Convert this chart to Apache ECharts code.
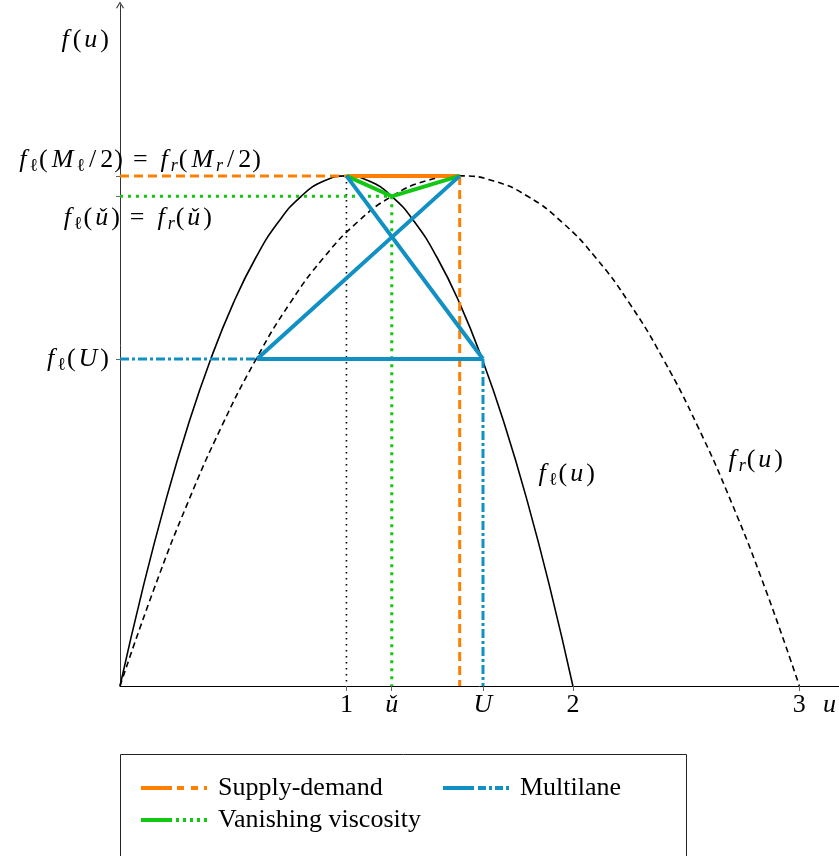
<!DOCTYPE html>
<html>
<head>
<meta charset="utf-8">
<script src="https://cdn.jsdelivr.net/npm/echarts@6/dist/echarts.min.js"></script>
<style>
html,body{margin:0;padding:0;background:#fff}
#main{width:839px;height:856px}
</style>
</head>
<body>
<div id="main"></div>
<script>
// 曲线采样 f_l(u)
var uL = [0, 0.1, 0.2, 0.3, 0.4, 0.5, 0.6, 0.7, 0.8, 0.9, 1, 1.1, 1.2, 1.3, 1.4, 1.5, 1.6, 1.7, 1.8, 1.9, 2];
var fL = [0, 0.19, 0.36, 0.51, 0.64, 0.75, 0.84, 0.91, 0.96, 0.99, 1, 0.99, 0.96, 0.91, 0.84, 0.75, 0.64, 0.51, 0.36, 0.19, 0];
// 曲线采样 f_r(u)
var uR = [0, 0.15, 0.3, 0.45, 0.6, 0.75, 0.9, 1.05, 1.2, 1.35, 1.5, 1.65, 1.8, 1.95, 2.1, 2.25, 2.4, 2.55, 2.7, 2.85, 3];
var fR = [0, 0.19, 0.36, 0.51, 0.64, 0.75, 0.84, 0.91, 0.96, 0.99, 1, 0.99, 0.96, 0.91, 0.84, 0.75, 0.64, 0.51, 0.36, 0.19, 0];

// 关键点
var peak = 1;        // f_l(M_l/2) = f_r(M_r/2)
var uHalfL = 1;      // M_l/2
var uHalfR = 1.5;    // M_r/2
var uCheck = 1.2;    // ǔ
var fCheck = 0.96;   // f_l(ǔ) = f_r(ǔ)
var uBig = 1.603;    // U
var fU = 0.641;      // f_l(U)
var uLeft = 0.605;   // f_r(u) = f_l(U)

// 刻度
var xTicks = [1, uCheck, uBig, 2, 3];
var xTickLabels = ['{n|1}', '{i|ǔ}', '{i|U}', '{n|2}', '{n|3}'];
var yTicks = [fU, fCheck, peak];

var legendNames = ['Supply-demand', 'Vanishing viscosity', 'Multilane'];

var ORANGE = '#ff8000', GREEN = '#12c812', BLUE = '#1090c3';
var FONT = '"Liberation Serif", "DejaVu Serif", serif';
var RICH = {
    f: {fontFamily: FONT, fontStyle: 'italic', fontSize: 26, lineHeight: 30, color: '#000', padding: [0, 3, 0, 4]},
    i: {fontFamily: FONT, fontStyle: 'italic', fontSize: 26, lineHeight: 30, color: '#000', padding: [0, 2, 0, 2]},
    m: {fontFamily: FONT, fontStyle: 'italic', fontSize: 26, lineHeight: 30, color: '#000', padding: [0, 3, 0, 3]},
    n: {fontFamily: FONT, fontSize: 26, lineHeight: 30, color: '#000'},
    p: {fontFamily: FONT, fontSize: 26, lineHeight: 30, color: '#000', padding: [0, 1, 0, 1]},
    d: {fontFamily: FONT, fontSize: 26, lineHeight: 30, color: '#000', padding: [0, 4, 0, 4]},
    e: {fontFamily: FONT, fontSize: 26, lineHeight: 30, color: '#000', padding: [0, 9, 0, 9]},
    s: {fontFamily: FONT, fontStyle: 'italic', fontSize: 18, lineHeight: 16, verticalAlign: 'bottom', color: '#000'},
    l: {fontFamily: FONT, fontSize: 18, lineHeight: 16, verticalAlign: 'bottom', color: '#000'}
};

var txtPeak = '{f|f}{l|ℓ}{p|(}{m|M}{l|ℓ}{d|/}{n|2}{p|)}{e|=}{f|f}{s|r}{p|(}{m|M}{s|r}{d|/}{n|2}{p|)}';
var txtCheck = '{f|f}{l|ℓ}{p|(}{i|ǔ}{p|)}{e|=}{f|f}{s|r}{p|(}{i|ǔ}{p|)}';
var txtU = '{f|f}{l|ℓ}{p|(}{i|U}{p|)}';
var txtFl = '{f|f}{l|ℓ}{p|(}{i|u}{p|)}';
var txtFr = '{f|f}{s|r}{p|(}{i|u}{p|)}';

// 图例图标 实线+虚线
var ICON_SD = 'path://M0,0h31v4h-31z M36,0h7v4h-7z M50,0h7v4h-7z M63,0h3v4h-3z';
var ICON_VV = 'path://M0,0h31v4h-31z M35,0h3v4h-3z M42,0h3v4h-3z M49,0h3v4h-3z M56,0h3v4h-3z M63,0h3v4h-3z';
var ICON_ML = 'path://M0,0h31v4h-31z M35,0h8v4h-8z M46,0h3v4h-3z M52,0h8v4h-8z M63,0h3v4h-3z';

function pairs(xs, ys) {
    return xs.map(function (x, i) { return [x, ys[i]]; });
}

function seg(name, data, color, width, type, z) {
    return {
        type: 'line', name: name, data: data, symbol: 'none', silent: true,
        lineStyle: {color: color, width: width, type: type, cap: 'butt'},
        itemStyle: {color: color}, z: z
    };
}

var myChart = echarts.init(document.getElementById('main'));

var legendText = {fontFamily: FONT, fontSize: 26, lineHeight: 30, color: '#000', padding: [0, 0, 0, 6]};

var option = {
    animation: false,
    backgroundColor: '#fff',
    grid: {left: 120, right: 0, top: 5, bottom: 170, containLabel: false, outerBoundsMode: 'none'},
    xAxis: {
        type: 'value', min: 0, max: 3.175,
        name: '{i|u}', nameLocation: 'end', nameGap: -18,
        nameTextStyle: {rich: RICH, align: 'left', verticalAlign: 'top', padding: [4, 0, 0, 0]},
        axisLine: {lineStyle: {color: '#000', width: 1}},
        axisTick: {customValues: xTicks, length: 5, lineStyle: {color: '#666'}},
        axisLabel: {
            customValues: xTicks, margin: 4, rich: RICH,
            formatter: function (v) {
                for (var k = 0; k < xTicks.length; k++) {
                    if (Math.abs(xTicks[k] - v) < 1e-6) return xTickLabels[k];
                }
                return '';
            }
        },
        splitLine: {show: false}
    },
    yAxis: {
        type: 'value', min: 0, max: 1.335,
        name: '{f|f}{p|(}{i|u}{p|)}', nameLocation: 'end', nameGap: -35,
        nameTextStyle: {rich: RICH, align: 'right', verticalAlign: 'middle', padding: [0, 10, 0, 0]},
        axisLine: {
            lineStyle: {color: '#333', width: 1},
            symbol: ['none', 'path://M0,8 L5,0 L10,8 L8.8,8.6 L5,2.4 L1.2,8.6 Z'],
            symbolSize: [8, 7]
        },
        axisTick: {customValues: yTicks, length: 4, lineStyle: {color: '#666'}},
        axisLabel: {
            customValues: [fU], margin: 10, rich: RICH,
            formatter: function () { return txtU; }
        },
        splitLine: {show: false}
    },
    legend: [
        {
            orient: 'vertical', left: 141, top: 773, padding: 0, itemGap: 2,
            itemWidth: 66, itemHeight: 4, selectedMode: false,
            itemStyle: {borderWidth: 0},
            textStyle: legendText,
            data: [
                {name: legendNames[0], icon: ICON_SD},
                {name: legendNames[1], icon: ICON_VV}
            ]
        },
        {
            orient: 'vertical', left: 443, top: 773, padding: 0,
            itemWidth: 66, itemHeight: 4, selectedMode: false,
            itemStyle: {borderWidth: 0},
            textStyle: legendText,
            data: [{name: legendNames[2], icon: ICON_ML}]
        }
    ],
    graphic: [{
        type: 'rect', silent: true,
        shape: {x: 120.5, y: 754.5, width: 566, height: 140},
        style: {fill: 'none', stroke: '#222', lineWidth: 1}
    }],
    series: [
        // 曲线
        {type: 'line', name: 'fl', data: pairs(uL, fL), smooth: true, symbol: 'none', silent: true,
         lineStyle: {color: '#000', width: 1.6}, z: 2},
        {type: 'line', name: 'fr', data: pairs(uR, fR), smooth: true, symbol: 'none', silent: true,
         lineStyle: {color: '#000', width: 1.6, type: [6, 4]}, z: 2},
        seg('guide', [[uHalfL, peak], [uHalfL, 0]], '#000', 1.6, [1.6, 4.4], 3),
        // Supply-demand
        seg(legendNames[0], [[uHalfL, peak], [uHalfR, peak]], ORANGE, 4, 'solid', 4),
        seg(legendNames[0], [[0, peak], [uHalfL, peak]], ORANGE, 3, [9, 5], 4),
        seg(legendNames[0], [[uHalfR, peak], [uHalfR, 0]], ORANGE, 3, [9, 5], 4),
        // Vanishing viscosity
        seg(legendNames[1], [[uHalfL, peak], [uCheck, fCheck], [uHalfR, peak]], GREEN, 4, 'solid', 5),
        seg(legendNames[1], [[0, fCheck], [uCheck, fCheck]], GREEN, 3, [3, 5], 5),
        seg(legendNames[1], [[uCheck, fCheck], [uCheck, 0]], GREEN, 3, [3, 5], 5),
        // Multilane
        seg(legendNames[2], [[uLeft, fU], [uBig, fU]], BLUE, 4, 'solid', 6),
        seg(legendNames[2], [[uLeft, fU], [uHalfR, peak]], BLUE, 4, 'solid', 6),
        seg(legendNames[2], [[uHalfL, peak], [uBig, fU]], BLUE, 4, 'solid', 6),
        seg(legendNames[2], [[0, fU], [uLeft, fU]], BLUE, 3, [9, 3, 3, 3], 6),
        seg(legendNames[2], [[uBig, fU], [uBig, 0]], BLUE, 3, [9, 3, 3, 3], 6),
        // 文字标注
        {
            type: 'scatter', name: 'labels', symbolSize: 0, silent: true, z: 10,
            itemStyle: {opacity: 1},
            label: {show: true, rich: RICH, color: '#000', opacity: 1, textBorderWidth: 0},
            data: [
                {value: [0, peak], label: {position: 'left', distance: 0, offset: [142, -16], formatter: function () { return txtPeak; }}},
                {value: [0, fCheck], label: {position: 'left', distance: 0, offset: [93, 22], formatter: function () { return txtCheck; }}},
                {value: [uL[18], fL[18]], label: {position: 'right', distance: 0, offset: [7, -28], formatter: function () { return txtFl; }}},
                {value: [uR[17], fR[17]], label: {position: 'right', distance: 0, offset: [27, 34], formatter: function () { return txtFr; }}}
            ]
        }
    ]
};

myChart.setOption(option);
</script>
</body>
</html>
